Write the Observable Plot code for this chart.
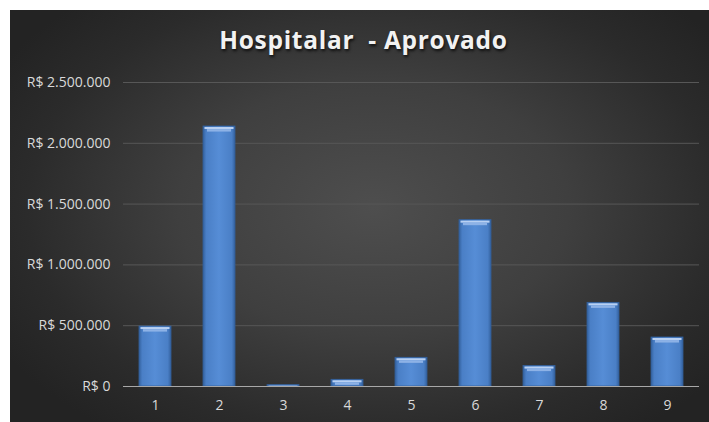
<!DOCTYPE html>
<html>
<head>
<meta charset="utf-8">
<script src="https://cdn.jsdelivr.net/npm/d3@7"></script>
<script src="https://cdn.jsdelivr.net/npm/@observablehq/plot@0.6"></script>
<style>
  html, body { margin: 0; padding: 0; background: #ffffff; }
  #chart {
    position: absolute; left: 10px; top: 10px; width: 699px; height: 412px;
    background: radial-gradient(ellipse 62% 68% at 52% 48%, #4e4e4e 0%, #3f3f3f 45%, #2b2b2b 80%, #232323 100%);
    overflow: hidden;
  }
  #title {
    height: 60px; box-sizing: border-box; padding-top: 18px;
    font-family: "Open Sans", sans-serif; font-weight: 700; font-size: 24.5px; line-height: 24px;
    color: #f2f2f2; text-align: center; letter-spacing: 0.7px; white-space: pre;
    text-shadow: 1px 2px 3px rgba(0,0,0,0.75);
    padding-left: 8px;
  }
  svg { display: block; }
</style>
</head>
<body>
<div id="chart">
  <div id="title">Hospitalar  - Aprovado</div>
</div>
<script>
const categories = ["1", "2", "3", "4", "5", "6", "7", "8", "9"];
const values = [493000, 2138000, 11000, 55000, 236000, 1368000, 168000, 688000, 403000];
const yTicks = [0, 500000, 1000000, 1500000, 2000000, 2500000];

const data = categories.map((c, i) => ({category: c, value: values[i]}));

const locale = d3.formatLocale({decimal: ",", thousands: ".", grouping: [3], currency: ["R$ ", ""]});
const fmt = locale.format("$,.0f");
const tickFormat = d => d === 0 ? "R$ 0" : fmt(d);

const plot = Plot.plot({
  width: 699,
  height: 352,
  marginLeft: 113,
  marginRight: 10,
  marginTop: 12,
  marginBottom: 36,
  style: {background: "transparent", fontFamily: "'Open Sans', sans-serif", overflow: "visible"},
  x: {domain: categories, paddingInner: 0.5, paddingOuter: 0.25, label: null},
  y: {domain: [0, 2500000], label: null},
  marks: [
    Plot.ruleY(yTicks.filter(d => d > 0), {stroke: "#575757", strokeWidth: 1}),
    Plot.barY(data, {x: "category", y: "value", fill: "url(#barGrad)", stroke: "#33609c", strokeWidth: 0.8}),
    Plot.tickY(data, {x: "category", y: "value", stroke: "#b8d0f2", strokeWidth: 2, dy: 1.5, inset: 1.5, clip: true}),
    Plot.tickY(data, {x: "category", y: "value", stroke: "#8db2e6", strokeWidth: 2.5, dy: 3.8, inset: 4, clip: true}),
    Plot.ruleY([0], {stroke: "#a8a8a8", strokeWidth: 1.2}),
    Plot.axisY({ticks: yTicks, tickSize: 0, tickPadding: 13, tickFormat, fill: "#d9d9d9", fontSize: 14}),
    Plot.axisX({tickSize: 0, tickPadding: 14, fill: "#d9d9d9", fontSize: 14})
  ]
});

const defs = `<defs>
  <linearGradient id="barGrad" x1="0" y1="0" x2="1" y2="0">
    <stop offset="0%" stop-color="#33619e"/>
    <stop offset="10%" stop-color="#4a7fc6"/>
    <stop offset="50%" stop-color="#568dd6"/>
    <stop offset="90%" stop-color="#4a7fc6"/>
    <stop offset="100%" stop-color="#33619e"/>
  </linearGradient>
</defs>`;
plot.insertAdjacentHTML("afterbegin", defs);
document.getElementById("chart").appendChild(plot);
</script>
</body>
</html>
